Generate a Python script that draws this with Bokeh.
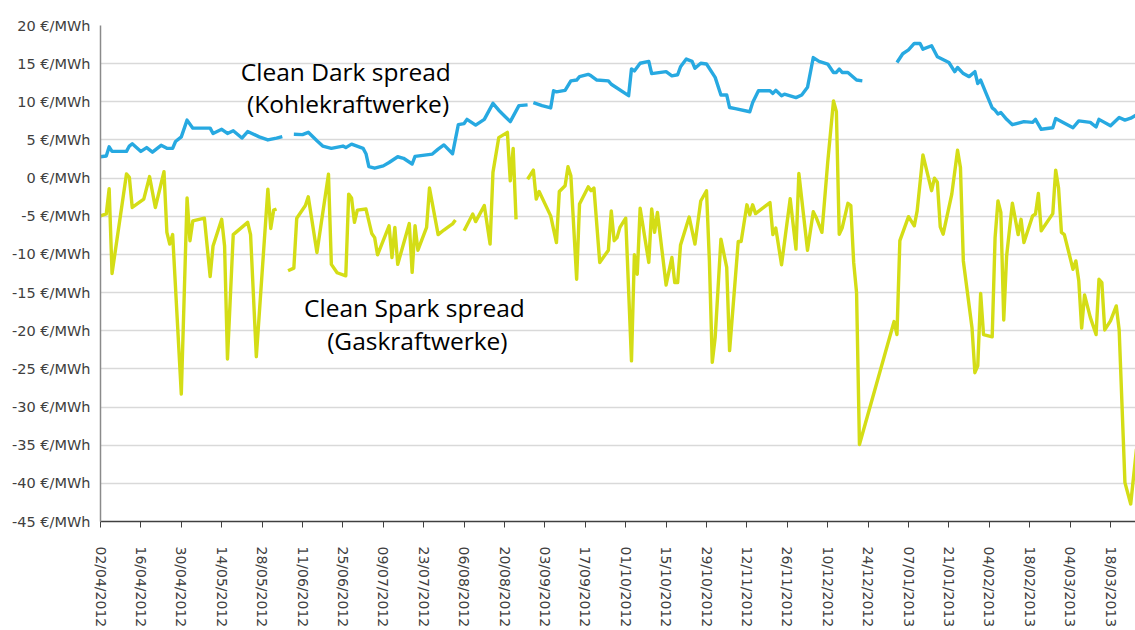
import pandas as pd
from bokeh.plotting import figure
from bokeh.models import (FixedTicker, DatetimeTickFormatter, PrintfTickFormatter,
                          Range1d, Label, ColumnDataSource)
from bokeh.embed import file_html
from bokeh.resources import INLINE

nan = float("nan")

START = "2012-04-02"

tick_labels = ["02/04/2012", "16/04/2012", "30/04/2012", "14/05/2012", "28/05/2012",
               "11/06/2012", "25/06/2012", "09/07/2012", "23/07/2012", "06/08/2012",
               "20/08/2012", "03/09/2012", "17/09/2012", "01/10/2012", "15/10/2012",
               "29/10/2012", "12/11/2012", "26/11/2012", "10/12/2012", "24/12/2012",
               "07/01/2013", "21/01/2013", "04/02/2013", "18/02/2013", "04/03/2013",
               "18/03/2013"]

y_ticks = [-45, -40, -35, -30, -25, -20, -15, -10, -5, 0, 5, 10, 15, 20]

# Clean Dark spread (Kohlekraftwerke): days since 02/04/2012 and EUR/MWh
dark_day = [0, 2, 3, 4, 9, 10, 11, 14, 16, 18, 21, 23, 25, 26, 28, 30, 32, 38, 39, 42,
            44, 46, 49, 51, 55, 58, 61, 63, 65, 67, 70, 72, 75, 77, 80, 84, 85, 87, 91, 92,
            93, 95, 98, 100, 103, 105, 108, 109, 113, 115, 117, 119, 122, 124, 126, 127, 130, 133, 136, 138,
            140, 142, 145, 148, 149, 150, 153, 156, 157, 158, 161, 163, 165, 166, 169, 170, 172, 176, 177, 183,
            184, 185, 187, 190, 191, 196, 198, 200, 201, 203, 205, 206, 208, 210, 213, 215, 217, 218, 220, 225,
            226, 228, 232, 233, 234, 236, 237, 241, 243, 245, 247, 249, 252, 254, 255, 256, 257, 259, 262, 264,
            265, 276, 278, 280, 282, 284, 285, 288, 290, 294, 296, 297, 299, 301, 303, 304, 305, 307, 309, 310,
            311, 312, 314, 316, 320, 323, 324, 326, 330, 331, 337, 339, 343, 345, 346, 350, 353, 355, 357, 359]
dark_value = [2.8, 2.9, 4.1, 3.5, 3.5, 4.2, 4.5, 3.5, 4.0, 3.4, 4.3, 3.9, 3.9, 4.8, 5.4, 7.6, 6.55, 6.55, 5.85, 6.4,
              5.85, 6.2, 5.25, 6.1, 5.4, 5.0, 5.25, 5.45, nan, 5.75, 5.7, 6.0, 4.9, 4.2, 3.9, 4.2, 4.0, 4.45, 3.9, 3.2,
              1.5, 1.3, 1.6, 2.05, 2.8, 2.6, 1.85, 2.85, 3.05, 3.15, 3.8, 4.35, 3.2, 7.0, 7.15, 7.7, 6.95, 7.7, 9.8, 8.9,
              8.15, 7.4, 9.5, 9.6, nan, 9.9, 9.5, 9.2, 11.45, 11.3, 11.5, 12.75, 12.85, 13.3, 13.6, 13.4, 12.85, 12.75, 12.3, 10.8,
              14.3, 14.05, 15.05, 15.3, 13.7, 13.95, 13.4, 13.55, 14.6, 15.6, 15.3, 14.4, 15.05, 14.95, 13.2, 10.9, 10.9, 9.25, 9.1, 8.7,
              9.9, 11.45, 11.45, 11.1, 11.5, 10.8, 11.0, 10.55, 10.9, 11.9, 15.8, 15.3, 14.95, 13.85, 13.85, 14.3, 13.85, 13.85, 12.85, 12.75,
              nan, 15.15, 16.3, 16.8, 17.65, 17.65, 16.9, 17.35, 15.9, 15.15, 13.95, 14.5, 13.7, 13.3, 13.95, 12.4, 12.85, 11.0, 9.2, 8.9,
              8.4, 8.6, 7.7, 7.0, 7.4, 7.3, 7.7, 6.4, 6.6, 7.8, 6.6, 7.5, 7.3, 6.7, 7.7, 6.85, 7.95, 7.6, 7.85, 8.3]

# Clean Spark spread (Gaskraftwerke)
spark_day = [0, 2, 3, 4, 9, 10, 11, 15, 17, 19, 22, 23, 24, 25, 28, 30, 31, 32, 36, 38,
             39, 42, 43, 44, 46, 51, 52, 54, 58, 59, 60, 61, 62, 65, 67, 68, 71, 72, 75, 79,
             80, 82, 85, 86, 87, 88, 89, 92, 94, 95, 96, 100, 101, 102, 103, 107, 108, 109, 110, 113,
             114, 117, 119, 121, 122, 123, 124, 126, 129, 130, 133, 135, 136, 138, 141, 142, 143, 144, 145, 148,
             150, 151, 152, 156, 158, 159, 161, 162, 163, 165, 166, 169, 170, 171, 173, 176, 177, 178, 179, 180,
             182, 184, 185, 186, 187, 190, 191, 192, 193, 196, 198, 199, 200, 201, 204, 206, 208, 210, 211, 212,
             213, 215, 217, 218, 221, 222, 224, 225, 226, 227, 232, 233, 234, 236, 239, 241, 242, 245, 247, 248,
             250, 252, 254, 255, 256, 257, 259, 260, 261, 262, 263, 275, 276, 277, 280, 282, 283, 285, 288, 289,
             290, 291, 292, 295, 297, 298, 299, 302, 303, 304, 305, 306, 309, 310, 311, 312, 313, 314, 316, 318,
             319, 320, 323, 324, 325, 326, 330, 331, 332, 333, 334, 337, 338, 339, 340, 341, 343, 345, 346, 347,
             348, 350, 352, 353, 355, 357, 359]
spark_value = [-4.95, -4.7, -1.4, -12.5, 0.55, 0.1, -3.85, -2.75, 0.2, -3.85, 0.85, -7.1, -8.65, -7.4, -28.3, -2.6, -8.2, -5.6, -5.25, -12.9,
               -8.9, -5.4, -8.9, -23.7, -7.4, -5.8, -7.4, -23.4, -1.45, -6.6, -4.2, -4.05, nan, -12.15, -11.8, -5.25, -3.6, -2.45, -9.75, 0.5,
               -11.3, -12.4, -12.8, -2.1, -2.6, -5.8, -4.2, -4.05, -7.25, -7.8, -10.05, -6.25, -10.4, -6.45, -11.3, -5.95, -12.35, -6.25, -9.45, -6.45,
               -1.3, -7.4, -6.8, -6.25, -6.0, -5.5, nan, -6.9, -4.7, -5.7, -3.6, -8.65, 0.75, 5.3, 6.0, -0.35, 3.9, -5.4, nan, -0.15,
               1.05, -2.75, -1.75, -4.95, -8.45, -1.75, -1.0, 1.5, 0.3, -13.25, -3.4, -1.15, -1.65, -1.3, -11.05, -9.45, -4.3, -8.2, -7.8, -6.45,
               -5.25, -23.95, -10.05, -12.6, -3.95, -11.05, -4.05, -7.1, -4.5, -14.0, -10.4, -13.7, -13.7, -8.75, -5.1, -8.65, -3.0, -1.65, -10.85, -24.15,
               -20.9, -8.0, -11.7, -22.6, -8.3, -8.3, -3.5, -4.8, -3.5, -4.65, -3.2, -7.4, -6.55, -11.35, -2.7, -9.3, 0.6, -9.45, -4.4, -5.15,
               -7.1, 2.05, 10.1, 8.75, -7.35, -6.55, -3.3, -3.6, -11.05, -15.0, -34.9, -18.8, -20.5, -8.2, -5.05, -6.25, -4.3, 3.05, -1.65, 0.0,
               -0.55, -6.4, -7.35, -2.1, 3.65, 1.4, -10.85, -19.6, -25.5, -24.6, -15.1, -20.5, -20.8, -7.8, -3.0, -4.5, -18.6, -10.2, -3.3, -7.4,
               -5.4, -8.45, -4.95, -4.7, -2.0, -6.9, -4.65, 1.05, -1.3, -7.1, -7.4, -11.95, -10.85, -13.45, -19.65, -15.3, -18.25, -20.5, -13.25, -13.7,
               -19.9, -18.7, -16.75, -19.9, -39.9, -42.7, -35.5]

start = pd.Timestamp(START)
dark_src = ColumnDataSource(dict(x=start + pd.to_timedelta(dark_day, unit="D"), y=dark_value))
spark_src = ColumnDataSource(dict(x=start + pd.to_timedelta(spark_day, unit="D"), y=spark_value))


def ms(ts):
    return ts.value / 1e6


tick_ms = [ms(t) for t in pd.to_datetime(tick_labels, format="%d/%m/%Y")]

p = figure(width=1135, height=630, x_axis_type="datetime",
           output_backend="svg", toolbar_location=None,
           x_range=Range1d(ms(start), ms(start + pd.Timedelta(days=358.66))),
           y_range=Range1d(-45, 20),
           min_border_left=100, min_border_right=0, min_border_top=25, min_border_bottom=109)
p.outline_line_color = None
p.background_fill_color = "white"
p.border_fill_color = "white"

p.line("x", "y", source=dark_src, line_color="#27a9e1", line_width=3.4, line_join="round")
p.line("x", "y", source=spark_src, line_color="#d4dd16", line_width=3.4, line_join="round")

# axes
xa = p.xaxis[0]
xa.ticker = FixedTicker(ticks=tick_ms)
fmt = "%d/%m/%Y"
xa.formatter = DatetimeTickFormatter(milliseconds=fmt, seconds=fmt, minsec=fmt, minutes=fmt,
                                     hourmin=fmt, hours=fmt, days=fmt, months=fmt, years=fmt)
xa.major_label_orientation = "vertical"
xa.major_label_text_font = "DejaVu Sans"
xa.major_label_text_font_size = "14px"
xa.major_label_text_color = "#404040"
xa.major_label_standoff = 19
xa.major_tick_out = 6
xa.major_tick_in = 0
xa.minor_tick_out = 0
xa.minor_tick_in = 0
xa.major_tick_line_color = "#404040"
xa.axis_line_color = "#404040"
xa.axis_line_width = 1.5

ya = p.yaxis[0]
ya.ticker = FixedTicker(ticks=y_ticks)
ya.formatter = PrintfTickFormatter(format="%d €/MWh")
ya.major_label_text_font = "DejaVu Sans"
ya.major_label_text_font_size = "14.5px"
ya.major_label_text_color = "#404040"
ya.major_label_standoff = 10
ya.major_tick_out = 0
ya.major_tick_in = 0
ya.minor_tick_out = 0
ya.minor_tick_in = 0
ya.axis_line_color = "#8a8a8a"
ya.axis_line_width = 1.5

p.xgrid.visible = False
p.ygrid.ticker = FixedTicker(ticks=y_ticks)
p.ygrid.grid_line_color = "#d9d9d9"
p.ygrid.grid_line_width = 1.5

# annotations
def add_label(day, yv, text):
    p.add_layout(Label(x=ms(start + pd.Timedelta(days=day)), y=yv, text=text,
                       text_align="center", text_baseline="alphabetic",
                       text_font="Open Sans", text_font_size="24.5px", text_color="black"))

add_label(85.0, 14.0, "Clean Dark spread")
add_label(85.8, 9.75, "(Kohlekraftwerke)")
add_label(108.8, -16.95, "Clean Spark spread")
add_label(109.8, -21.25, "(Gaskraftwerke)")

open("out.html", "w").write(file_html(p, INLINE))
